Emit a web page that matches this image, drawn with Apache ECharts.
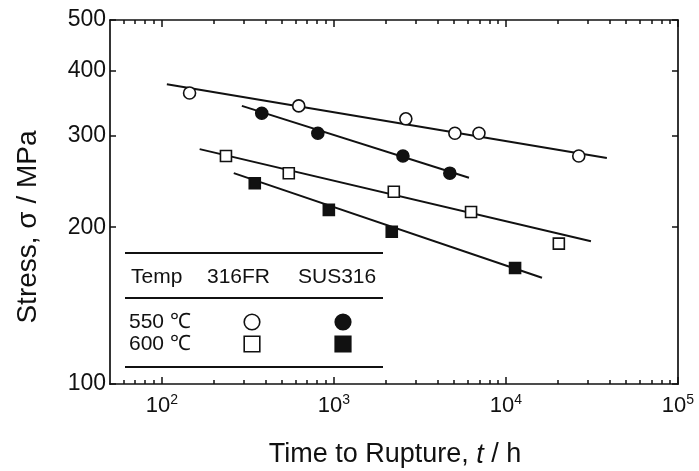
<!DOCTYPE html>
<html>
<head>
<meta charset="utf-8">
<script src="https://cdn.jsdelivr.net/npm/echarts@6/dist/echarts.min.js"></script>
<style>
  html, body { margin: 0; padding: 0; background: #fff; }
  #chart { width: 699px; height: 471px; }
</style>
</head>
<body>
<div id="chart"></div>
<script>
// Creep rupture tests: time to rupture t (h) against stress (MPa)
const fr550Time = [145, 625, 2620, 5050, 6970, 26500];
const fr550Stress = [362, 342, 323, 303, 303, 274];
const sus550Time = [381, 807, 2520, 4720];
const sus550Stress = [331, 303, 274, 254];
const fr600Time = [236, 547, 2230, 6270, 20300];
const fr600Stress = [274, 254, 234, 214, 186];
const sus600Time = [347, 935, 2170, 11300];
const sus600Stress = [243, 216, 196, 167];

// Fitted rupture lines: [time, stress] at each end
const fr550Fit = [[107, 376.5], [38600, 271.5]];
const sus550Fit = [[292, 342], [6100, 249]];
const fr600Fit = [[166, 282.5], [31200, 188]];
const sus600Fit = [[262, 254], [16200, 160]];

// Axis ranges and ticks
const timeRange = [50, 100000];
const stressRange = [100, 500];
const timeMajorTicks = [100, 1000, 10000, 100000];
const timeMinorTicks = [60, 70, 80, 90,
  200, 300, 400, 500, 600, 700, 800, 900,
  2000, 3000, 4000, 5000, 6000, 7000, 8000, 9000,
  20000, 30000, 40000, 50000, 60000, 70000, 80000, 90000];
const stressTicks = [100, 200, 300, 400, 500];

// Legend table text
const legendHeader = ['Temp', '316FR', 'SUS316'];
const legendRows = ['550 ℃', '600 ℃'];

const FONT = '"Liberation Sans", Arial, Helvetica, sans-serif';
const INK = '#111';
const lg = Math.log10;
const box = { left: 110, top: 20, right: 21, bottom: 87 };

function zipPts(xs, ys) { return xs.map((x, i) => [x, ys[i]]); }

function tickAxis(extra) {
  return Object.assign({
    type: 'value',
    splitLine: { show: false },
    axisLine: { show: false },
    axisTick: { show: false },
    axisLabel: { show: false }
  }, extra);
}

const grids = [0, 1, 2, 3, 4].map(() => Object.assign({ containLabel: false }, box));

const xLogMin = lg(timeRange[0]), xLogMax = lg(timeRange[1]);
const yLogMin = lg(stressRange[0]), yLogMax = lg(stressRange[1]);
const frame = { show: true, onZero: false, lineStyle: { color: INK, width: 1.7 } };
const tickStyle = { color: INK, width: 1.5 };

const xAxes = [
  // data axis
  { type: 'log', gridIndex: 0, min: timeRange[0], max: timeRange[1], logBase: 10, show: false },
  // bottom frame with decade ticks and labels
  tickAxis({
    gridIndex: 1, position: 'bottom', min: xLogMin, max: xLogMax,
    axisLine: frame,
    axisTick: { show: true, inside: true, length: 7, lineStyle: tickStyle,
      customValues: timeMajorTicks.map(lg) },
    axisLabel: {
      show: true, margin: 9, customValues: timeMajorTicks.map(lg),
      formatter: v => '{b|10}{s|' + Math.round(v) + '}',
      rich: {
        b: { fontSize: 22, fontFamily: FONT, color: INK },
        s: { fontSize: 14, fontFamily: FONT, color: INK, padding: [0, 0, 11, 0] }
      }
    }
  }),
  // top frame with decade ticks
  tickAxis({
    gridIndex: 2, position: 'top', min: xLogMin, max: xLogMax,
    axisLine: frame,
    axisTick: { show: true, inside: true, length: 7, lineStyle: tickStyle,
      customValues: timeMajorTicks.map(lg) }
  }),
  // bottom minor ticks
  tickAxis({
    gridIndex: 3, position: 'bottom', min: xLogMin, max: xLogMax,
    axisTick: { show: true, inside: true, length: 4, lineStyle: tickStyle,
      customValues: timeMinorTicks.map(lg) }
  }),
  // top minor ticks
  tickAxis({
    gridIndex: 4, position: 'top', min: xLogMin, max: xLogMax,
    axisTick: { show: true, inside: true, length: 4, lineStyle: tickStyle,
      customValues: timeMinorTicks.map(lg) }
  })
];

const yAxes = [
  { type: 'log', gridIndex: 0, min: stressRange[0], max: stressRange[1], logBase: 10, show: false },
  tickAxis({
    gridIndex: 1, position: 'left', min: yLogMin, max: yLogMax,
    axisLine: frame,
    axisTick: { show: true, inside: true, length: 6, lineStyle: tickStyle,
      customValues: stressTicks.map(lg) },
    axisLabel: {
      show: true, margin: 4, customValues: stressTicks.map(lg),
      formatter: v => String(Math.round(Math.pow(10, v))),
      fontSize: 23, fontFamily: FONT, color: INK
    }
  }),
  tickAxis({
    gridIndex: 2, position: 'right', min: yLogMin, max: yLogMax,
    axisLine: frame,
    axisTick: { show: true, inside: true, length: 6, lineStyle: tickStyle,
      customValues: stressTicks.map(lg) }
  }),
  tickAxis({ gridIndex: 3, min: yLogMin, max: yLogMax, show: false }),
  tickAxis({ gridIndex: 4, min: yLogMin, max: yLogMax, show: false })
];

function fitLine(pts) {
  return {
    type: 'line', xAxisIndex: 0, yAxisIndex: 0, data: pts, symbol: 'none',
    lineStyle: { color: INK, width: 2 }, silent: true, z: 2, animation: false
  };
}
function markers(xs, ys, symbol, filled) {
  return {
    type: 'scatter', xAxisIndex: 0, yAxisIndex: 0, data: zipPts(xs, ys),
    symbol: symbol, symbolSize: symbol === 'rect' ? 11 : 12,
    itemStyle: { color: filled ? INK : '#fff', borderColor: INK, borderWidth: 1.6, opacity: 1 },
    z: 3, animation: false
  };
}

// Legend table drawn as a small ruled block
const tblLeft = 125, tblRight = 383;
const rule = y => ({
  type: 'line', shape: { x1: tblLeft, y1: y, x2: tblRight, y2: y },
  style: { stroke: INK, lineWidth: 2.2 }
});
const txt = (s, x, y) => ({
  type: 'text', x: x, y: y,
  style: { text: s, font: '21px ' + FONT, fill: INK, textAlign: 'left', textVerticalAlign: 'middle' }
});
const colFR = 252, colSUS = 343, row1 = 322, row2 = 344, symR = 7.8;

const legendGraphics = [
  rule(253), rule(298), rule(367),
  txt(legendHeader[0], 131, 277), txt(legendHeader[1], 207, 277), txt(legendHeader[2], 298, 277),
  txt(legendRows[0], 129, row1), txt(legendRows[1], 129, row2),
  { type: 'circle', shape: { cx: colFR, cy: row1, r: symR }, style: { fill: '#fff', stroke: INK, lineWidth: 1.6 } },
  { type: 'circle', shape: { cx: colSUS, cy: row1, r: symR }, style: { fill: INK, stroke: INK, lineWidth: 1.6 } },
  { type: 'rect', shape: { x: colFR - symR, y: row2 - symR, width: 2 * symR, height: 2 * symR }, style: { fill: '#fff', stroke: INK, lineWidth: 1.6 } },
  { type: 'rect', shape: { x: colSUS - symR, y: row2 - symR, width: 2 * symR, height: 2 * symR }, style: { fill: INK, stroke: INK, lineWidth: 1.6 } }
];

const titleGraphics = [
  {
    type: 'text', x: 28, y: 227, rotation: Math.PI / 2,
    style: { text: 'Stress, σ / MPa', font: '28px ' + FONT, fill: INK, textAlign: 'center', textVerticalAlign: 'middle' }
  },
  {
    type: 'text', x: 395, y: 455,
    style: {
      text: '{n|Time to Rupture, }{i|t}{n| / h}', textAlign: 'center', textVerticalAlign: 'middle',
      rich: {
        n: { fontSize: 27, fontFamily: FONT, fill: INK },
        i: { fontSize: 27, fontFamily: FONT, fontStyle: 'italic', fill: INK }
      }
    }
  }
];

const chart = echarts.init(document.getElementById('chart'), null, { renderer: 'canvas' });
chart.setOption({
  backgroundColor: '#fff',
  animation: false,
  grid: grids,
  xAxis: xAxes,
  yAxis: yAxes,
  series: [
    fitLine(fr550Fit), fitLine(sus550Fit), fitLine(fr600Fit), fitLine(sus600Fit),
    markers(fr550Time, fr550Stress, 'circle', false),
    markers(sus550Time, sus550Stress, 'circle', true),
    markers(fr600Time, fr600Stress, 'rect', false),
    markers(sus600Time, sus600Stress, 'rect', true)
  ],
  graphic: legendGraphics.concat(titleGraphics)
});
</script>
</body>
</html>
